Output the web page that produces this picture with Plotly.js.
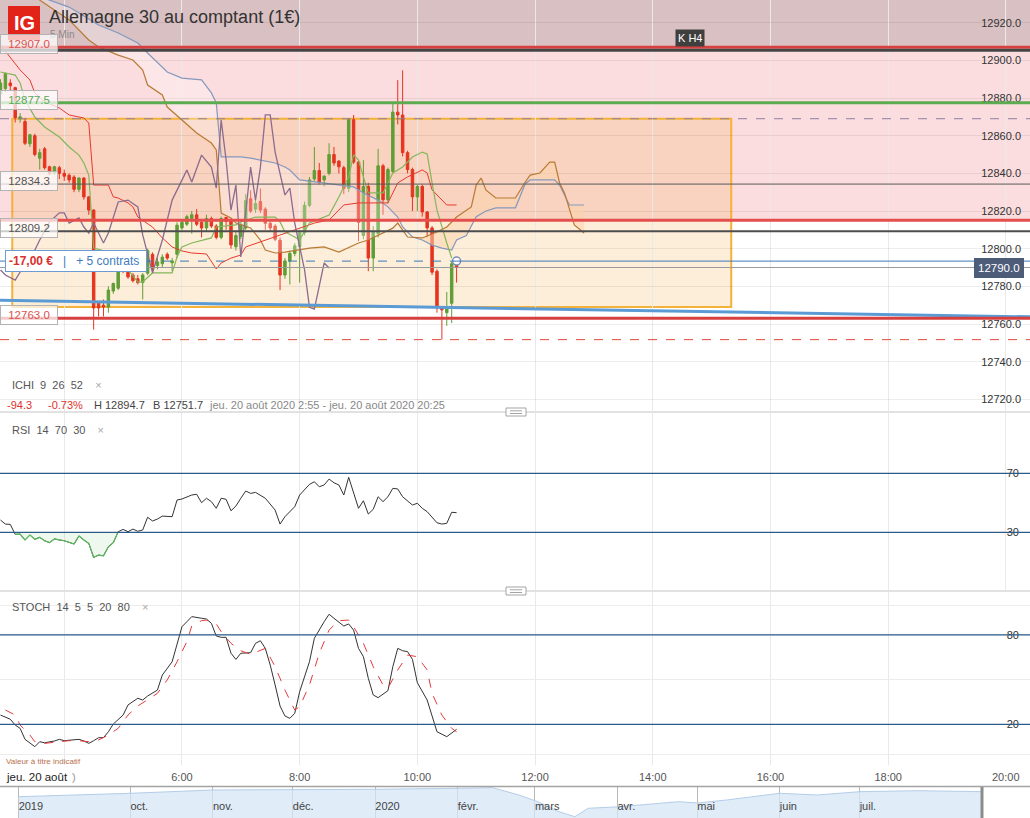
<!DOCTYPE html>
<html><head><meta charset="utf-8">
<script src="https://cdn.plot.ly/plotly-3.0.1.min.js"></script>
<style>html,body{margin:0;padding:0;background:#fff;}#chart{width:1030px;height:818px;}</style>
</head><body><div id="chart"></div>
<script>
const DAY = '2020-08-20 ';
// ---------- candles (5 min) ----------
const candleTimes = ['02:55','03:00','03:05','03:10','03:15','03:20','03:25','03:30','03:35','03:40','03:45','03:50','03:55','04:00','04:05','04:10','04:15','04:20','04:25','04:30','04:35','04:40','04:45','04:50','04:55','05:00','05:05','05:10','05:15','05:20','05:25','05:30','05:35','05:40','05:45','05:50','05:55','06:00','06:05','06:10','06:15','06:20','06:25','06:30','06:35','06:40','06:45','06:50','06:55','07:00','07:05','07:10','07:15','07:20','07:25','07:30','07:35','07:40','07:45','07:50','07:55','08:00','08:05','08:10','08:15','08:20','08:25','08:30','08:35','08:40','08:45','08:50','08:55','09:00','09:05','09:10','09:15','09:20','09:25','09:30','09:35','09:40','09:45','09:50','09:55','10:00','10:05','10:10','10:15','10:20','10:25','10:30','10:35','10:40'];
const candleOpen = [12882,12885,12888,12885.5,12869,12867.5,12855.7,12860,12848,12853,12843.5,12840,12843,12840,12839,12838,12831.5,12837.5,12827.5,12820.5,12771,12770,12769,12777.5,12779,12790,12788,12786,12784,12782,12787,12797,12791,12792,12797,12792.5,12797,12811,12813,12816,12818,12814,12811,12816,12812,12806,12816.5,12815,12801,12806.5,12811,12826.5,12821,12825,12821,12813.5,12812,12804.5,12786,12793.5,12797.5,12801,12808.5,12823,12837,12841.5,12836.5,12840,12850,12846.5,12843,12832,12868.5,12846,12807,12833,12795,12808,12844,12826,12841,12872.5,12871,12851,12842,12827.5,12833,12819.5,12811,12788,12768.5,12766,12771,12791];
const candleHigh = [12890,12893.5,12890,12886,12872,12869,12861,12861,12853,12854,12844,12844,12844,12842,12840,12839,12838,12838,12828,12821,12772,12773,12780,12782,12792,12792,12789,12787,12786,12787,12800,12798,12795,12797,12798,12795,12814,12815,12818,12820,12821,12815,12818,12817,12813,12817,12817,12816,12809,12815,12829,12831,12826,12832,12822,12815,12813,12806,12795,12799,12803,12810,12825,12838,12854,12845.5,12839,12856,12854,12847,12844,12869,12871,12847,12847,12835,12812,12853,12845,12843,12877,12889.5,12894.7,12852,12843,12834,12834,12820,12812,12789,12769.5,12777,12793,12792];
const candleLow = [12880,12883,12884,12867,12867,12855,12854,12849,12842,12842,12839,12839,12837,12836,12835,12830,12830,12826,12818,12757,12764,12764,12766,12776,12778,12787,12784,12782,12781,12773,12786,12788,12789,12790,12794,12788,12795,12810,12812,12808,12812,12806,12809,12811,12805,12805,12810,12800,12799,12805,12810,12819,12819,12819,12810,12809,12804,12778,12784,12781,12796,12782,12807,12822,12836,12834,12833,12839,12844,12840,12829,12830,12845,12804,12805,12788,12788,12806,12818,12824,12840,12866,12849,12840,12820,12820,12817,12806,12786,12766,12751.7,12759,12760.5,12782];
const candleClose = [12888,12893,12886.5,12869.5,12870,12856,12860.5,12850,12851,12843,12840,12843.5,12840,12838.5,12836.5,12831.5,12837.5,12827.5,12820.5,12768.5,12768.5,12769,12778,12781.5,12790,12788,12785,12783,12782,12786,12799,12790,12793,12795.5,12795,12793.5,12812.5,12814,12817,12818,12813,12811,12816,12812,12806,12816,12814.5,12802,12807,12813,12825.5,12820,12824,12820.5,12813.5,12811,12805,12786,12793.5,12797.5,12801.5,12808.5,12823,12836.5,12841.5,12835,12838.5,12850,12845.5,12843.5,12832,12868.5,12846,12814,12833,12795,12809,12844,12826,12842,12872.5,12871,12851,12842,12827.5,12833,12819.5,12811,12787.5,12768.5,12767.5,12768,12792,12790];

// ---------- Ichimoku 9 26 52 ----------
const tenkanT = ['02:55','03:05','03:15','03:25','03:30','03:40','03:55','04:05','04:20','04:25','04:30','04:45','04:50','04:55','05:05','05:10','05:15','05:30','05:40','05:50','06:00','06:10','06:25','06:35','06:40','06:50','07:00','07:05','07:25','07:45','08:15','08:30','08:45','09:00','09:30','09:40','09:50','10:05','10:10','10:15','10:25','10:30','10:40'];
const tenkanV = [12908.2,12901.8,12894.9,12889.6,12882.7,12877.9,12874.7,12871,12869.4,12866.7,12833.8,12833.8,12827.5,12826.9,12824.3,12822.2,12816.8,12811.5,12805.7,12800.9,12798.8,12797.7,12797.2,12789.2,12792.4,12795,12796.6,12800.9,12804.6,12808.3,12813.6,12815.2,12823.2,12824.3,12824.3,12834.9,12838.1,12841.8,12840.2,12831.2,12825.8,12823.2,12823.2];
const kijunT = ['02:55','03:10','03:15','03:20','03:30','03:40','03:55','04:05','04:15','04:20','04:25','04:30','04:45','04:50','05:05','05:15','05:20','05:30','05:50','05:55','06:00','06:10','06:30','06:35','06:55','07:00','07:15','07:35','07:40','07:45','07:55','08:00','08:10','08:30','08:40','08:50','08:55','09:00','09:05','09:10','09:25','09:35','09:45','09:55','10:05','10:10','10:15','10:20','10:30','10:35'];
const kijunV = [12893.8,12892.2,12888,12879,12869.9,12864.6,12859.3,12854,12849.7,12845.5,12839.1,12800.3,12798.2,12795.6,12788.7,12782.3,12782.3,12787.1,12787.1,12795.6,12800.9,12803,12805.7,12811.5,12812.6,12814.2,12816.8,12816.8,12814.2,12808.9,12806.2,12804.6,12813.6,12817.9,12827.4,12838.1,12849.8,12847.1,12838.1,12829.6,12829.6,12840.2,12843.4,12848.7,12851.3,12850.3,12834.9,12820.5,12803,12795];
const chikouT = ['02:55','03:00','03:10','03:15','03:25','03:35','03:45','03:55','04:00','04:05','04:15','04:20','04:25','04:30','04:35','04:40','04:45','04:55','05:05','05:15','05:20','05:30','05:40','05:50','06:00','06:05','06:10','06:20','06:30','06:35','06:40','06:45','06:50','06:55','07:00','07:10','07:15','07:20','07:25','07:30','07:35','07:45','07:50','07:55','08:05','08:10','08:15','08:25','08:30'];
const chikouV = [12788.7,12786,12783.3,12787.6,12793.9,12804.6,12814.2,12819,12819,12813.6,12816.3,12811.5,12808.3,12813.6,12808.3,12803,12808.3,12824.8,12825.8,12822.2,12807.3,12787.1,12804.6,12825.8,12836.4,12841.8,12835.4,12849.7,12843.3,12832.2,12868.3,12847.1,12820.5,12833.8,12795.6,12843.3,12825.8,12843.3,12871,12871,12851.3,12828.5,12832.2,12813.6,12788.7,12768.9,12767.9,12792.4,12789.7];
const spanAT = ['03:30','03:35','04:05','04:25','04:35','04:55','05:10','05:20','05:25','05:40','05:45','06:00','06:15','06:30','06:35','06:40','06:50','06:55','07:10','07:20','07:25','07:35','07:45','08:10','08:25','08:40','09:00','09:10','09:25','09:35','09:40','09:50','10:05','10:20','10:30','10:40','10:55','11:00','11:05','11:10','11:20','11:40','11:50','11:55','12:05','12:10','12:15','12:20','12:25','12:30','12:40','12:50'];
const spanAV = [12934.5,12932,12921.4,12910.8,12907.1,12902.8,12900.2,12894.9,12886.9,12881.6,12875.2,12868.3,12861.4,12856.1,12852.4,12818.9,12816.3,12813.6,12811,12804.6,12799.3,12797.7,12798.2,12800.3,12800.9,12798.2,12803,12804.6,12808.3,12810.9,12813.6,12806.2,12805.7,12808.9,12811.5,12816.8,12822.2,12833.8,12837.5,12831.1,12826.9,12826.9,12835.4,12839.1,12840.2,12843.4,12846,12846,12834.9,12829.6,12812.6,12808.3];
const spanBT = ['03:40','03:45','04:05','04:35','04:55','05:15','05:25','05:35','05:45','06:00','06:20','06:30','06:35','06:40','07:00','07:10','07:20','07:35','07:45','07:50','08:00','08:25','08:45','08:55','09:05','09:20','09:30','09:40','09:45','09:55','10:05','10:15','10:25','10:35','10:40','10:45','10:50','10:55','11:00','11:10','11:20','11:40','11:50','11:55','12:20','12:25','12:35','12:50'];
const spanBV = [12933.1,12932,12928.3,12918.8,12914.5,12909.2,12903.9,12899.1,12893.8,12890.6,12889.6,12882.7,12877.4,12848.7,12848.7,12848.1,12847.1,12845.5,12843.4,12841.8,12836.5,12834.9,12833.8,12832.8,12829.6,12825.8,12822.2,12816.8,12811.5,12806.2,12804.6,12801.9,12800.3,12799.3,12804.6,12806,12807,12812,12817,12820,12821.7,12821.7,12834.5,12836.5,12836.5,12833.8,12823.2,12823.2];
const cloudUpFrom = '09:50';

// ---------- RSI 14 ----------
const rsiT = ['02:55','03:00','03:05','03:10','03:15','03:20','03:25','03:30','03:35','03:40','03:45','03:50','03:55','04:00','04:10','04:15','04:20','04:25','04:30','04:35','04:40','04:45','04:50','04:55','05:00','05:05','05:10','05:15','05:20','05:25','05:30','05:35','05:40','05:50','05:55','06:00','06:10','06:15','06:20','06:25','06:30','06:35','06:40','06:45','06:50','06:55','07:00','07:05','07:10','07:15','07:25','07:35','07:40','07:45','07:55','08:00','08:10','08:15','08:20','08:25','08:30','08:35','08:40','08:45','08:50','08:55','09:00','09:05','09:10','09:15','09:20','09:25','09:30','09:35','09:40','09:45','09:50','09:55','10:00','10:05','10:10','10:20','10:25','10:30','10:35','10:40'];
const rsiV = [38.3,35.6,35.4,28.6,28.8,24.8,28.2,25.3,26.6,24.3,23.0,25.5,24.8,24.3,22.1,27.5,24.8,22.5,13.0,14.6,14.1,20.2,23.0,30.4,32.0,30.4,32.2,30.7,31.6,40.2,37.7,39.0,41.0,40.6,51.9,52.6,55.3,55.8,50.1,53.1,50.8,46.3,53.1,52.4,44.6,47.8,53.1,58.0,56.4,57.1,53.1,45.1,35.6,40.6,47.4,55.3,62.5,64.3,60.9,62.1,66.1,63.6,62.1,55.3,67.3,56.4,46.3,51.4,42.4,45.6,54.1,50.8,54.1,59.8,59.4,54.1,51.4,48.5,49.7,46.3,44.0,36.5,35.6,36.1,43.6,43.3];
const rsiLevels = [70, 30];
const rsiOversold = ['03:10','04:55'];

// ---------- STOCH 14 5 5 ----------
const stochKT = ['02:55','03:05','03:10','03:15','03:20','03:25','03:30','03:35','03:40','03:50','03:55','04:00','04:10','04:15','04:20','04:25','04:30','04:35','04:40','04:45','04:50','05:00','05:05','05:15','05:20','05:25','05:35','05:40','05:50','05:55','06:00','06:05','06:10','06:20','06:25','06:30','06:35','06:40','06:45','06:50','06:55','07:00','07:05','07:10','07:15','07:20','07:25','07:30','07:35','07:40','07:45','07:50','07:55','08:00','08:10','08:15','08:25','08:30','08:35','08:45','08:50','08:55','09:00','09:05','09:10','09:15','09:20','09:30','09:35','09:40','09:45','09:50','09:55','10:00','10:10','10:15','10:20','10:30','10:35','10:40'];
const stochKV = [26.2,23.4,19.5,17.3,9.9,7.6,5.0,8.3,7.6,8.8,9.9,9.0,9.5,9.9,8.8,7.2,9.0,11.0,11.0,15.0,20.2,26.2,33.0,37.5,36.3,39.0,43.0,53.1,62.0,74.4,85.5,88.9,92.3,91.2,90.7,87.8,79.3,78.4,78.4,67.7,63.6,67.7,68.1,68.1,74.4,76.1,71.0,59.8,46.4,32.3,25.6,24.0,27.4,41.9,62.0,77.8,88.9,93.9,91.2,86.0,87.4,83.3,71.0,65.4,50.9,39.7,37.9,42.6,58.7,71.0,69.4,68.8,63.6,47.9,36.3,25.1,15.0,11.7,14.4,16.6];
const stochDT = ['03:00','03:10','03:15','03:25','03:30','03:40','03:55','04:05','04:15','04:25','04:35','04:45','04:55','05:05','05:15','05:25','05:35','05:45','05:55','06:05','06:10','06:20','06:25','06:35','06:40','06:50','07:00','07:10','07:20','07:25','07:35','07:45','07:55','08:00','08:10','08:20','08:30','08:40','08:50','08:55','09:05','09:15','09:25','09:30','09:40','09:50','10:00','10:10','10:15','10:25','10:35','10:40'];
const stochDV = [29.6,26.2,19.5,12.8,8.3,7.2,8.3,9.0,9.0,8.3,9.5,12.8,17.3,26.2,32.3,36.3,40.8,49.8,62.0,75.5,86.0,89.6,90.0,87.4,82.2,74.4,69.4,67.0,69.9,71.0,58.7,43.0,29.6,31.8,46.4,67.7,83.3,89.6,90.0,85.5,74.4,58.7,46.4,44.2,56.5,66.5,65.4,56.5,40.8,26.2,17.3,15.0];
const stochLevels = [80, 20];

// ---------- price levels / drawings ----------
const resistTop = 12907.0, kH4 = 12905.3, greenLevel = 12877.5, dashedLevel = 12869.0;
const level1 = 12834.3, redMid = 12815.1, level2 = 12809.2;
const entryPrice = 12793.4, lastPrice = 12790.0, supportLevel = 12763.0, dayLow = 12751.7;
const boxTimes = ['03:07','15:20'], boxPrices = [12769, 12869];
const trendTimes = ['02:54:30','20:24:36'], trendPrices = [12772.6, 12763.8];
const priceTicks = [12720,12740,12760,12780,12800,12820,12840,12860,12880,12900,12920];
const xTickTimes = ['04:00','06:00','08:00','10:00','12:00','14:00','16:00','18:00','20:00'];
const xTickLabels = ['','6:00','8:00','10:00','12:00','14:00','16:00','18:00','20:00'];

// ---------- navigator ----------
const navDates = ['2019-08-20','2019-10-01','2019-11-01','2019-12-01','2020-01-01','2020-02-01','2020-02-14','2020-02-24','2020-03-02','2020-03-10','2020-03-16','2020-03-21','2020-04-02','2020-04-24','2020-05-01','2020-05-12','2020-06-01','2020-06-15','2020-07-01','2020-07-23','2020-08-16'];
const navValues = [12392,13061,13710,13710,13848,14045,14163,12726,11408,9440,8456,10109,10424,11408,11152,11742,13061,12726,13376,13573,13376];
const navTickDates = ['2019-08-20','2019-10-01','2019-11-01','2019-12-01','2020-01-01','2020-02-01','2020-03-01','2020-04-01','2020-05-01','2020-06-01','2020-07-01'];
const navTickLabels = ['2019','oct.','nov.','déc.','2020','févr.','mars','avr.','mai','juin','juil.'];

// ================= build =================
const W = 1030, H = 818;
const px = x => x / W, py = y => 1 - y / H;
const T = t => DAY + t;
const FONT = 'Liberation Sans, Arial, sans-serif';
const priceRange = [12713.8, 12932.05];
const lastT = candleTimes[candleTimes.length - 1];
const lastTick = xTickTimes.length - 1;

const traces = [];
traces.push({type:'candlestick', x:candleTimes.map(T), open:candleOpen, high:candleHigh, low:candleLow, close:candleClose,
  xaxis:'x', yaxis:'y', whiskerwidth:0, hoverinfo:'skip',
  increasing:{line:{color:'#5f9e35', width:1}, fillcolor:'#5f9e35'},
  decreasing:{line:{color:'#e5341f', width:1}, fillcolor:'#e5341f'}});
const bSeg = spanBT.map((t,i)=>i).filter(i=>spanBT[i]>=cloudUpFrom);
const aSeg = spanAT.map((t,i)=>i).filter(i=>spanAT[i]>=cloudUpFrom);
traces.push({type:'scatter', mode:'lines', x:bSeg.map(i=>T(spanBT[i])), y:bSeg.map(i=>spanBV[i]), line:{width:0}, xaxis:'x', yaxis:'y', hoverinfo:'skip'});
traces.push({type:'scatter', mode:'lines', x:aSeg.map(i=>T(spanAT[i])), y:aSeg.map(i=>spanAV[i]), line:{width:0}, fill:'tonexty', fillcolor:'rgba(246,170,90,0.38)', xaxis:'x', yaxis:'y', hoverinfo:'skip'});
traces.push({type:'scatter', mode:'lines', x:spanBT.map(T), y:spanBV, line:{color:'#8599bd', width:1.2}, xaxis:'x', yaxis:'y', hoverinfo:'skip'});
traces.push({type:'scatter', mode:'lines', x:spanAT.map(T), y:spanAV, line:{color:'#b87a34', width:1.2}, fill:'tonexty', fillcolor:'rgba(255,255,255,0.28)', xaxis:'x', yaxis:'y', hoverinfo:'skip'});
traces.push({type:'scatter', mode:'lines', x:tenkanT.map(T), y:tenkanV, line:{color:'#e8392f', width:1}, xaxis:'x', yaxis:'y', hoverinfo:'skip'});
traces.push({type:'scatter', mode:'lines', x:kijunT.map(T), y:kijunV, line:{color:'#84b65a', width:1.2}, xaxis:'x', yaxis:'y', hoverinfo:'skip'});
traces.push({type:'scatter', mode:'lines', x:chikouT.map(T), y:chikouV, line:{color:'#8d6b8f', width:1.3}, xaxis:'x', yaxis:'y', hoverinfo:'skip'});
traces.push({type:'scatter', mode:'lines', x:trendTimes.map(T), y:trendPrices, line:{color:'#5b9bd5', width:3}, xaxis:'x', yaxis:'y', hoverinfo:'skip'});
traces.push({type:'scatter', mode:'markers', x:[T(lastT)], y:[entryPrice], marker:{size:8, color:'#ffffff', line:{color:'#7a8fb5', width:1.5}}, xaxis:'x', yaxis:'y', hoverinfo:'skip'});
// RSI
traces.push({type:'scatter', mode:'lines', x:rsiT.map(T), y:rsiV, line:{color:'#333', width:1}, xaxis:'x', yaxis:'y2', hoverinfo:'skip'});
const osIdx = rsiT.map((t,i)=>i).filter(i=>rsiT[i]>=rsiOversold[0] && rsiT[i]<=rsiOversold[1]);
traces.push({type:'scatter', mode:'lines', x:osIdx.map(i=>T(rsiT[i])), y:osIdx.map(()=>rsiLevels[1]), line:{width:0}, xaxis:'x', yaxis:'y2', hoverinfo:'skip'});
traces.push({type:'scatter', mode:'lines', x:osIdx.map(i=>T(rsiT[i])), y:osIdx.map(i=>rsiV[i]), line:{color:'#5cb85c', width:1.2}, fill:'tonexty', fillcolor:'rgba(120,200,120,0.12)', xaxis:'x', yaxis:'y2', hoverinfo:'skip'});
// STOCH
traces.push({type:'scatter', mode:'lines', x:stochKT.map(T), y:stochKV, line:{color:'#333', width:1}, xaxis:'x', yaxis:'y3', hoverinfo:'skip'});
traces.push({type:'scatter', mode:'lines', x:stochDT.map(T), y:stochDV, line:{color:'#e33b3b', width:1, dash:'dash'}, xaxis:'x', yaxis:'y3', hoverinfo:'skip'});
// navigator
traces.push({type:'scatter', mode:'lines', x:navDates, y:navValues, line:{color:'#b4cde8', width:1}, fill:'tozeroy', fillcolor:'rgba(214,229,245,0.75)', xaxis:'x2', yaxis:'y4', hoverinfo:'skip'});

// ---------- shapes ----------
const shapes = [];
shapes.push({type:'rect', xref:'paper', yref:'y', x0:0, x1:1, y0:resistTop, y1:priceRange[1], fillcolor:'rgb(217,192,194)', line:{width:0}, layer:'below'});
shapes.push({type:'rect', xref:'paper', yref:'y', x0:0, x1:1, y0:redMid, y1:resistTop, fillcolor:'rgb(251,221,223)', line:{width:0}, layer:'below'});
shapes.push({type:'rect', xref:'x', yref:'y', x0:T(boxTimes[0]), x1:T(boxTimes[1]), y0:boxPrices[0], y1:boxPrices[1], fillcolor:'rgba(243,172,70,0.2)', line:{color:'#f4b23a', width:2}, layer:'below'});
function hline(y, color, width, dash, yref, x0, x1, xref){
  shapes.push({type:'line', xref:xref||'paper', yref:yref||'y', x0:(x0===undefined?0:x0), x1:(x1===undefined?1:x1), y0:y, y1:y, line:{color:color, width:width, dash:dash||'solid'}, layer:'above'});
}
hline(dashedLevel, '#8f7f9e', 1, 'dash');
hline(resistTop, '#d8403f', 3);
hline(kH4, '#454545', 3);
hline(greenLevel, '#5cab50', 3);
hline(level1, '#5a5a5a', 1);
hline(redMid, '#e44f4e', 3);
hline(level2, '#4d4d4d', 2);
hline(lastPrice, '#9a9a9a', 1);
hline(entryPrice, '#3c78b8', 1, 'dash', 'y', T('02:54:30'), T(lastT), 'x');
hline(entryPrice, '#3c78b8', 1, 'solid', 'y', T(lastT), T('20:24:36'), 'x');
hline(supportLevel, '#d8403f', 3);
hline(dayLow, '#e04a3a', 1, 'dash');
rsiLevels.forEach(v=>hline(v, '#2d5b89', 1.2, 'solid', 'y2'));
stochLevels.forEach(v=>hline(v, '#2d5b89', 1.2, 'solid', 'y3'));
[412, 591].forEach(y=>{
  shapes.push({type:'line', xref:'paper', yref:'paper', x0:0, x1:1, y0:py(y), y1:py(y), line:{color:'#c4c4c4', width:1}});
  shapes.push({type:'rect', xref:'paper', yref:'paper', x0:px(506), x1:px(526), y0:py(y+4), y1:py(y-4), fillcolor:'#ffffff', line:{color:'#a5a5a5', width:1}});
  shapes.push({type:'line', xref:'paper', yref:'paper', x0:px(510), x1:px(522), y0:py(y-1.2), y1:py(y-1.2), line:{color:'#a5a5a5', width:1}});
  shapes.push({type:'line', xref:'paper', yref:'paper', x0:px(510), x1:px(522), y0:py(y+1.5), y1:py(y+1.5), line:{color:'#a5a5a5', width:1}});
});
shapes.push({type:'line', xref:'paper', yref:'paper', x0:0, x1:1, y0:py(786.5), y1:py(786.5), line:{color:'#a3a3a3', width:1.5}});
shapes.push({type:'line', xref:'paper', yref:'paper', x0:px(982), x1:px(982), y0:py(787), y1:0, line:{color:'#8c8c8c', width:3}});
shapes.push({type:'rect', xref:'paper', yref:'paper', x0:px(8), x1:px(40), y0:py(40), y1:py(6), fillcolor:'#e2231a', line:{width:0}, layer:'above'});

// ---------- annotations ----------
const ann = [];
function txt(x, y, text, size, color, opts){
  ann.push(Object.assign({xref:'paper', yref:'paper', x:px(x), y:py(y), text:text, showarrow:false, xanchor:'left', yanchor:'middle',
    font:{family:FONT, size:size, color:color}}, opts||{}));
}
txt(24, 23.5, '<b>IG</b>', 20, '#ffffff', {xanchor:'center'});
txt(47, 17, 'Allemagne 30 au comptant (1€)', 18, '#333333');
txt(48, 34, '5 Min', 10, '#8a8a8a');
txt(690, 38, 'K H4', 11, '#ffffff', {xanchor:'center', bgcolor:'#3f3f3f', borderpad:2});
function lvlLabel(price, color){
  ann.push({xref:'paper', yref:'y', x:0, y:price, yshift:3, text:price.toFixed(1), showarrow:false, xanchor:'left', yanchor:'middle',
    width:50, align:'center', bgcolor:'rgba(255,255,255,0.72)', bordercolor:'#b3b3b3', borderwidth:1, borderpad:3,
    font:{family:FONT, size:11.5, color:color}});
}
lvlLabel(resistTop, '#d9534f');
lvlLabel(greenLevel, '#5aa85a');
lvlLabel(level1, '#555555');
lvlLabel(level2, '#555555');
lvlLabel(supportLevel, '#d9534f');
ann.push({xref:'paper', yref:'y', x:px(5), y:entryPrice, text:'<b><span style="color:#d9302c">-17,00 €</span></b>\u00A0\u00A0\u00A0<span style="color:#3d7cc0">|\u00A0\u00A0\u00A0+ 5 contrats</span>\u00A0',
  showarrow:false, xanchor:'left', yanchor:'middle', bgcolor:'#ffffff', bordercolor:'#6b9bd2', borderwidth:1, borderpad:3,
  font:{family:FONT, size:12, color:'#3d7cc0'}});
ann.push({xref:'paper', yref:'y', x:px(1024), y:lastPrice, text:lastPrice.toFixed(1), showarrow:false, xanchor:'right', yanchor:'middle',
  bgcolor:'#4c5c79', bordercolor:'#4c5c79', borderpad:3, font:{family:FONT, size:11.5, color:'#ffffff'}});
const X = '<span style="color:#a8a8a8">\u00D7</span>';
const S = '\u00A0\u00A0';
txt(10, 385.5, 'ICHI'+S+'9'+S+'26'+S+'52'+S+S+X, 11, '#555');
txt(5, 405, '-94.3', 11, '#e0302a');
txt(46, 405, '-0.73%', 11, '#e0302a');
txt(92, 405, 'H 12894.7', 11, '#444');
txt(151, 405, 'B 12751.7', 11, '#444');
txt(207, 405, 'jeu. 20 août 2020 2:55 - jeu. 20 août 2020 20:25', 11, '#888');
txt(10, 430, 'RSI'+S+'14'+S+'70'+S+'30'+S+S+X, 11, '#555');
txt(10, 607, 'STOCH'+S+'14'+S+'5'+S+'5'+S+'20'+S+'80'+S+S+X, 11, '#555');
txt(4, 761, 'Valeur à titre indicatif', 8, '#b8714e');
txt(4, 777, 'jeu. 20 août', 11.5, '#222');
txt(70, 777, ')', 11, '#999');
// last time tick label (drawn as annotation so it is not auto-hidden near the inside price labels)
ann.push({xref:'x', yref:'paper', x:T(xTickTimes[lastTick]), y:py(777), text:xTickLabels[lastTick], showarrow:false,
  xanchor:'center', yanchor:'middle', font:{family:FONT, size:11, color:'#555'}});
const axisTickText = xTickLabels.map((s,i)=> i===lastTick ? '' : s);

const layout = {
  width:W, height:H, margin:{l:0, r:0, t:0, b:0}, paper_bgcolor:'#ffffff', plot_bgcolor:'#ffffff',
  showlegend:false, boxgap:0.28, font:{family:FONT, size:11, color:'#444'},
  xaxis:{type:'date', domain:[0,1], anchor:'y3', range:[T('02:54:30'), T('20:24:36')], tickmode:'array',
    tickvals:xTickTimes.map(T), ticktext:axisTickText, showgrid:true, gridcolor:'#e9e9e9', zeroline:false, showline:false,
    ticks:'', ticklabelstandoff:4, tickfont:{family:FONT, size:11, color:'#555'}, rangeslider:{visible:false}, fixedrange:true},
  yaxis:{domain:[py(411), 1], range:priceRange, side:'right', ticklabelposition:'inside', tickmode:'array',
    tickvals:priceTicks, ticktext:priceTicks.map(v=>v.toFixed(1)), showgrid:true, gridcolor:'rgba(0,0,0,0.07)',
    zeroline:false, showline:false, ticks:'', ticklabelstandoff:6, tickfont:{family:FONT, size:11, color:'#333'}, fixedrange:true},
  yaxis2:{domain:[py(590), py(413)], range:[-9.1, 110.9], side:'right', ticklabelposition:'inside', tickmode:'array',
    tickvals:rsiLevels, ticktext:rsiLevels.map(String), showgrid:false, zeroline:false, showline:false, ticks:'', ticklabelstandoff:8,
    tickfont:{family:FONT, size:11, color:'#333'}, fixedrange:true},
  yaxis3:{domain:[py(765), py(592)], range:[-7.33, 108.85], side:'right', ticklabelposition:'inside', tickmode:'array',
    tickvals:[0, stochLevels[1], 50, stochLevels[0], 100], ticktext:['', String(stochLevels[1]), '', String(stochLevels[0]), ''],
    showgrid:true, gridcolor:'#ececec', zeroline:false, showline:false, ticks:'', ticklabelstandoff:8,
    tickfont:{family:FONT, size:11, color:'#333'}, fixedrange:true},
  xaxis2:{type:'date', domain:[0,1], anchor:'y4', range:['2019-08-13','2020-09-03'], tickmode:'array', tickvals:navTickDates,
    ticktext:navTickLabels, ticklabelposition:'inside right', showgrid:true, gridcolor:'#b8b8b8', zeroline:false, showline:false,
    ticks:'', tickfont:{family:FONT, size:11, color:'#444'}, fixedrange:true},
  yaxis4:{domain:[0, py(787)], range:[8200, 14300], visible:false, fixedrange:true},
  shapes:shapes, annotations:ann
};
Plotly.newPlot('chart', traces, layout, {staticPlot:true, displayModeBar:false});
</script></body></html>
